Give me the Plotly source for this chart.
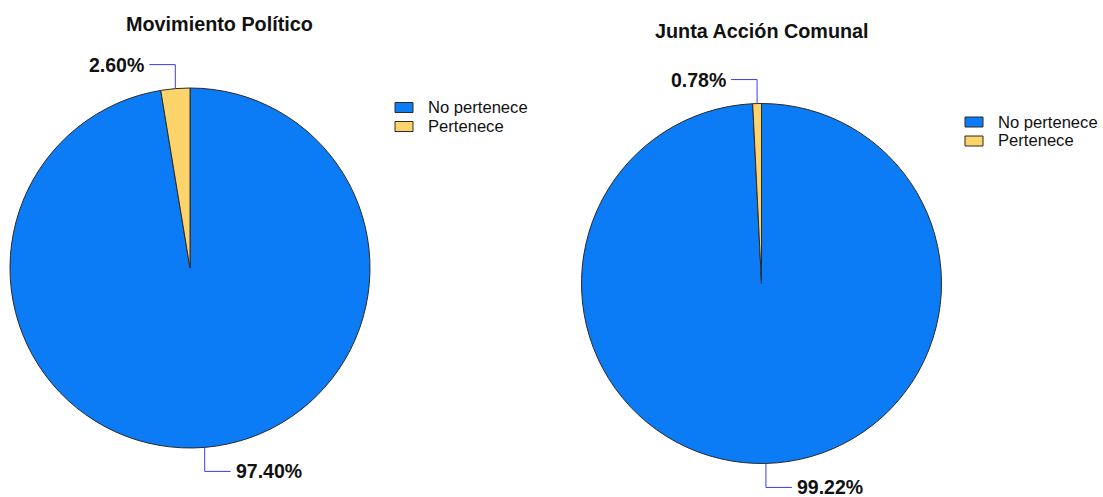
import math
import plotly.graph_objects as go

# Data
categories = ["No pertenece", "Pertenece"]
titles = ["Movimiento Político", "Junta Acción Comunal"]
movimiento_politico = [97.40, 2.60]
junta_accion_comunal = [99.22, 0.78]
series = [movimiento_politico, junta_accion_comunal]
colors = ["#0B7CF5", "#FDD36C"]

# Layout constants (pixels)
W, H = 1103, 497
centers = [(190, 268), (761.5, 283.5)]
R = 180
title_pos = [(219, 24), (762, 31)]
legend_pos = [(395, 107.5), (965, 122)]
LEADER = "#3c3cf0"
FONT = "Liberation Sans, Arial, sans-serif"


def px(x):
    return x / W


def py(y):
    return 1 - y / H


fig = go.Figure()
shapes = []
annotations = []

for k, (vals, (cx, cy)) in enumerate(zip(series, centers)):
    fig.add_trace(go.Pie(
        labels=categories,
        values=vals,
        sort=False,
        direction="clockwise",
        rotation=0,
        textinfo="none",
        hoverinfo="label+percent",
        marker=dict(colors=colors, line=dict(color="#2a2a2a", width=1)),
        domain=dict(x=[px(cx - R), px(cx + R)], y=[py(cy + R), py(cy - R)]),
        showlegend=False,
    ))

    # Percentage labels with elbow leader lines
    total = sum(vals)
    cum = 0.0
    for v in vals:
        frac = (cum + v / 2) / total
        cum += v
        th = 2 * math.pi * frac
        ex = cx + R * math.sin(th)
        ey = cy - R * math.cos(th)
        vdir = -1 if math.cos(th) > 0 else 1
        hdir = -1 if math.sin(th) < 0 else 1
        elx, ely = ex, ey + vdir * 24
        tx = elx + hdir * 26
        shapes.append(dict(
            type="path", xref="paper", yref="paper",
            path=f"M{px(ex)},{py(ey)} L{px(elx)},{py(ely)} L{px(tx)},{py(ely)}",
            line=dict(color=LEADER, width=1),
        ))
        annotations.append(dict(
            x=px(tx + hdir * 3), y=py(ely), xref="paper", yref="paper",
            text=f"<b>{v / total * 100:.2f}%</b>", showarrow=False,
            xanchor="right" if hdir < 0 else "left", yanchor="middle",
            font=dict(family=FONT, size=19.5, color="#111111"),
        ))

    # Chart title
    tx, ty = title_pos[k]
    annotations.append(dict(
        x=px(tx), y=py(ty), xref="paper", yref="paper",
        text=f"<b>{titles[k]}</b>", showarrow=False,
        xanchor="center", yanchor="middle",
        font=dict(family=FONT, size=19.8, color="#111111"),
    ))

    # Legend
    lx, ly = legend_pos[k]
    for i, (name, col) in enumerate(zip(categories, colors)):
        yc = ly + i * 19
        shapes.append(dict(
            type="rect", xref="paper", yref="paper",
            x0=px(lx), x1=px(lx + 18), y0=py(yc + 5), y1=py(yc - 5),
            fillcolor=col, line=dict(color="#2a2a2a", width=1),
        ))
        annotations.append(dict(
            x=px(lx + 31), y=py(yc), xref="paper", yref="paper",
            text=name, showarrow=False, xanchor="left", yanchor="middle",
            font=dict(family=FONT, size=16.6, color="#111111"),
        ))

fig.update_layout(
    width=W, height=H,
    margin=dict(l=0, r=0, t=0, b=0),
    paper_bgcolor="white", plot_bgcolor="white",
    shapes=shapes, annotations=annotations,
)

fig.write_html("out.html")
